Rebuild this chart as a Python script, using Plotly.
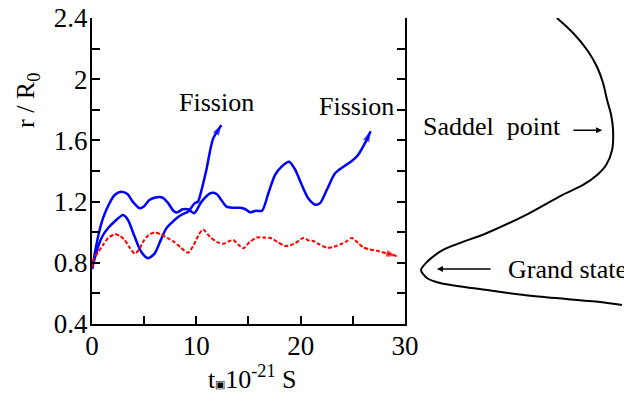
import plotly.graph_objects as go

# Trajectory 1 (upper blue, fission late)
t_a = [0, 0.58, 1.05, 1.53, 2.17, 2.8, 3.4, 3.9, 4.57, 5.0, 5.5, 6.2, 6.8, 7.3, 7.8, 8.1,
       8.7, 9.2, 9.8, 10.5, 11.4, 11.95, 12.4, 12.9, 13.5, 14.2, 14.7, 15.15, 15.7, 16.3,
       16.9, 17.55, 18.2, 18.9, 19.46, 20.1, 20.74, 21.4, 21.86, 22.5, 23.3, 24.1, 24.9,
       25.5, 26.3, 26.7]
r_a = [0.76, 0.97, 1.09, 1.17, 1.243, 1.265, 1.25, 1.20, 1.157, 1.17, 1.21, 1.228, 1.225,
       1.19, 1.14, 1.128, 1.15, 1.15, 1.124, 1.20, 1.256, 1.25, 1.21, 1.167, 1.16, 1.16,
       1.15, 1.13, 1.14, 1.14, 1.254, 1.374, 1.43, 1.46, 1.41, 1.31, 1.22, 1.18, 1.19,
       1.276, 1.385, 1.428, 1.465, 1.505, 1.60, 1.66]

# Trajectory 2 (lower blue, fission early)
t_b = [0, 0.58, 1.05, 1.53, 2.17, 2.97, 3.45, 4.09, 4.73, 5.37, 6.0, 6.6, 7.12, 7.6, 8.25,
       8.75, 9.2, 9.85, 10.16, 10.5, 10.96, 11.6, 12.4]
r_b = [0.76, 0.905, 0.98, 1.026, 1.07, 1.112, 1.08, 0.97, 0.87, 0.83, 0.86, 0.95, 1.025,
       1.06, 1.10, 1.12, 1.134, 1.19, 1.20, 1.276, 1.406, 1.61, 1.70]

# Trajectory 3 (red dashed, no fission)
t_c = [0, 0.2, 0.6, 1.05, 1.6, 2.17, 2.7, 3.13, 3.6, 4.09, 4.5, 4.9, 5.4, 6.0, 6.6, 7.29,
       7.8, 8.5, 9.2, 9.7, 10.2, 10.64, 11.3, 12.0, 12.6, 13.1, 13.55, 14.0, 14.5, 15.1,
       15.8, 16.5, 17.2, 17.8, 18.5, 19.0, 19.46, 20.26, 20.8, 21.2, 21.8, 22.5, 23.2,
       23.9, 24.4, 24.9, 25.5, 26.0, 26.6, 27.3, 28.2, 29.2]
r_c = [0.77, 0.83, 0.87, 0.916, 0.965, 0.986, 0.975, 0.949, 0.90, 0.86, 0.885, 0.938, 0.98,
       0.999, 0.985, 0.96, 0.94, 0.90, 0.866, 0.91, 0.98, 1.017, 0.97, 0.935, 0.925, 0.94,
       0.949, 0.92, 0.895, 0.935, 0.965, 0.965, 0.96, 0.935, 0.91, 0.915, 0.927, 0.962,
       0.945, 0.943, 0.92, 0.899, 0.905, 0.923, 0.94, 0.962, 0.93, 0.901, 0.888, 0.879,
       0.862, 0.845]

# Potential curve (energy, relative units) versus r / R0
pot_v = [0.708, 0.792, 0.865, 0.917, 0.948, 0.969, 0.990, 1.0, 0.995, 0.964, 0.917, 0.844,
         0.735, 0.545, 0.344, 0.115, 0.031, 0.0, 0.031, 0.099, 0.344, 0.583, 0.932, 1.047]
pot_r = [2.40, 2.302, 2.191, 2.080, 1.975, 1.864, 1.766, 1.668, 1.537, 1.439, 1.374, 1.309,
         1.243, 1.112, 0.995, 0.884, 0.805, 0.753, 0.701, 0.668, 0.622, 0.583, 0.544, 0.524]

x_ticks = [0, 5, 10, 15, 20, 25, 30]
x_labels = ["0", "", "10", "", "20", "", "30"]
y_ticks = [0.4, 0.6, 0.8, 1.0, 1.2, 1.4, 1.6, 1.8, 2.0, 2.2, 2.4]
y_labels = ["0.4", "", "0.8", "", "1.2", "", "1.6", "", "2", "", "2.4"]

FONT = "Liberation Serif"
FS = 26
TFS = 27
BLUE = "#0000ff"
RED = "#ff0000"


def arrow_marker(n, color, size):
    return dict(symbol="arrow", angleref="previous", size=[0] * (n - 1) + [size],
                color=color, line=dict(width=0))


fig = go.Figure()
fig.add_trace(go.Scatter(x=t_a, y=r_a, mode="lines+markers",
                         line=dict(color=BLUE, width=2.5, shape="spline", smoothing=0.7),
                         marker=arrow_marker(len(t_a), BLUE, 11)))
fig.add_trace(go.Scatter(x=t_b, y=r_b, mode="lines+markers",
                         line=dict(color=BLUE, width=2.5, shape="spline", smoothing=0.7),
                         marker=arrow_marker(len(t_b), BLUE, 11)))
fig.add_trace(go.Scatter(x=t_c, y=r_c, mode="lines+markers",
                         line=dict(color=RED, width=2, dash="4px,2px", shape="spline",
                                   smoothing=0.7),
                         marker=arrow_marker(len(t_c), RED, 11)))
fig.add_trace(go.Scatter(x=pot_v, y=pot_r, mode="lines", xaxis="x2", yaxis="y",
                         line=dict(color="black", width=2, shape="spline", smoothing=0.8)))

axis_common = dict(showgrid=False, zeroline=False, showline=True, linecolor="black",
                   linewidth=2, ticks="inside", ticklen=8, tickwidth=2, tickcolor="black",
                   automargin=False,
                   tickfont=dict(family=FONT, size=TFS, color="black"))

fig.update_layout(
    width=624, height=396,
    margin=dict(l=92, r=0, t=18, b=72, pad=0, autoexpand=False),
    paper_bgcolor="white", plot_bgcolor="white",
    showlegend=False,
    font=dict(family=FONT, size=FS, color="black"),
    xaxis=dict(domain=[0, 0.5883], range=[0, 30], tickmode="array", tickvals=x_ticks,
               ticktext=x_labels, ticklabelstandoff=-3, **axis_common),
    yaxis=dict(range=[0.4, 2.4], tickmode="array", tickvals=y_ticks, ticktext=y_labels,
               mirror="ticks", ticklabelstandoff=-3, **axis_common),
    xaxis2=dict(domain=[0.5883, 1], range=[-0.0833, 1.057], anchor="y", visible=False),
)

ann = []
ann.append(dict(x=11.94, y=1.85, xref="x", yref="y", text="Fission", showarrow=False,
                font=dict(family=FONT, size=FS)))
ann.append(dict(x=25.36, y=1.82, xref="x", yref="y", text="Fission", showarrow=False,
                font=dict(family=FONT, size=FS)))
ann.append(dict(x=0.74, y=1.688, xref="x2", yref="y", text="Saddel  point", showarrow=False,
                xanchor="right", font=dict(family=FONT, size=FS)))
ann.append(dict(x=0.943, y=1.667, ax=0.786, ay=1.667, xref="x2", yref="y", axref="x2",
                ayref="y", text="", showarrow=True, arrowhead=2, arrowsize=0.8,
                arrowwidth=1.5, arrowcolor="black"))
ann.append(dict(x=0.443, y=0.753, xref="x2", yref="y", text="Grand state", showarrow=False,
                xanchor="left", font=dict(family=FONT, size=FS)))
ann.append(dict(x=0.083, y=0.76, ax=0.370, ay=0.76, xref="x2", yref="y", axref="x2",
                ayref="y", text="", showarrow=True, arrowhead=2, arrowsize=0.8,
                arrowwidth=1.5, arrowcolor="black"))
ann.append(dict(x=-0.122, y=0.729, xref="paper", yref="paper", text="r / R<sub>0</sub>",
                showarrow=False, textangle=-90, xanchor="center", yanchor="middle",
                font=dict(family=FONT, size=FS)))
ann.append(dict(x=15.3, y=-0.176, xref="x", yref="paper",
                text="t<span style='font-size:11px'>▣</span>10<sup>-21</sup> S",
                showarrow=False, xanchor="center", yanchor="middle",
                font=dict(family=FONT, size=FS)))
fig.update_layout(annotations=ann)

fig.write_html("out.html", config={"displayModeBar": False},
               post_script="document.body.style.margin='0px';"
                           "document.body.style.overflow='hidden';")
